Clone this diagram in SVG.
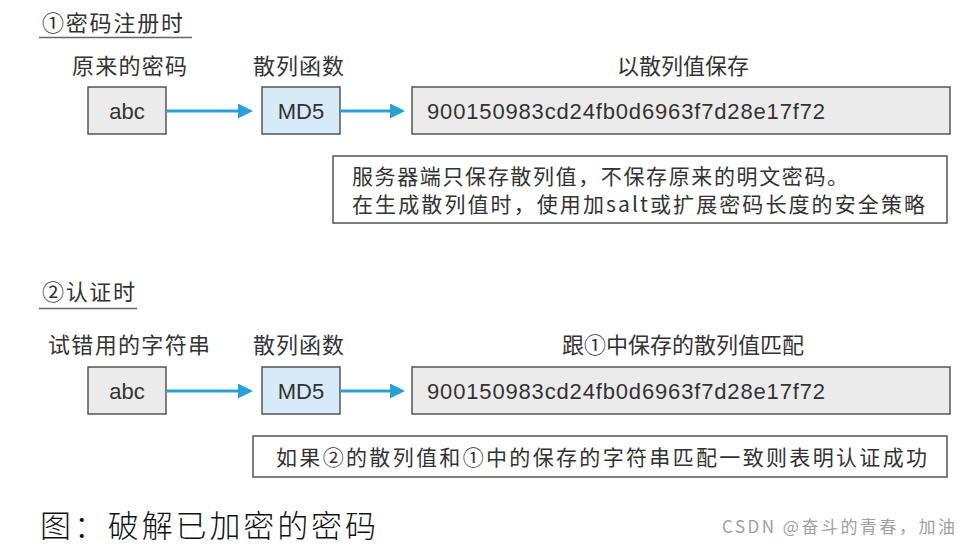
<svg xmlns="http://www.w3.org/2000/svg" width="968" height="546" viewBox="0 0 968 546">
<defs>
<style>
.cjk{font-family:"Noto Sans CJK SC","Noto Sans",sans-serif;fill:#333;}
.lat{font-family:"Liberation Sans","Noto Sans",sans-serif;fill:#333;}
.box{fill:#ebebeb;stroke:#555;stroke-width:1.5;}
.md5{fill:#d6eaf8;stroke:#555;stroke-width:1.5;}
.note{fill:#fff;stroke:#555;stroke-width:1.5;}
.rule{stroke:#666;stroke-width:1.5;}
.arr{stroke:#2a9fd8;stroke-width:3;fill:none;marker-end:url(#ah);}
</style>
<marker id="ah" markerWidth="5" markerHeight="5" refX="4" refY="2.5" orient="auto" markerUnits="strokeWidth">
<path d="M0,0 L5,2.5 L0,5 Z" fill="#2a9fd8"/>
</marker>
</defs>
<rect width="968" height="546" fill="#fff"/>

<g id="section1-title">
<text class="cjk" x="42" y="31" font-size="22" textLength="141">①密码注册时</text>
<line class="rule" x1="39" y1="37.5" x2="192" y2="37.5"/>
</g>
<g id="label-orig"><text class="cjk" x="72" y="74" font-size="22" textLength="115">原来的密码</text></g>
<g id="label-hash1"><text class="cjk" x="253" y="74" font-size="22" textLength="91">散列函数</text></g>
<g id="label-save"><text class="cjk" x="683" y="74" font-size="22" text-anchor="middle">以散列值保存</text></g>

<g id="abc1"><rect class="box" x="88" y="87" width="78" height="47"/><text class="lat" x="127" y="119" font-size="22" text-anchor="middle">abc</text></g>
<g id="md51"><rect class="md5" x="262" y="87" width="78" height="47"/><text class="lat" x="301" y="119" font-size="22" text-anchor="middle">MD5</text></g>
<g id="hash1"><rect class="box" x="412" y="87" width="538" height="47"/><text class="lat" x="427" y="119" font-size="22" textLength="398">900150983cd24fb0d6963f7d28e17f72</text></g>
<g id="note1"><rect class="note" x="333" y="156" width="614" height="67"/>
<text class="cjk" x="352" y="184" font-size="21" textLength="496">服务器端只保存散列值，不保存原来的明文密码。</text>
<text class="cjk" x="352" y="212" font-size="21" textLength="573">在生成散列值时，使用加salt或扩展密码长度的安全策略</text></g>

<g id="section2-title">
<text class="cjk" x="42" y="300" font-size="22" textLength="93">②认证时</text>
<line class="rule" x1="39" y1="308.5" x2="137" y2="308.5"/>
</g>
<g id="label-try"><text class="cjk" x="48" y="353" font-size="22" textLength="162">试错用的字符串</text></g>
<g id="label-hash2"><text class="cjk" x="253" y="353" font-size="22" textLength="91">散列函数</text></g>
<g id="label-match"><text class="cjk" x="683" y="353" font-size="22" text-anchor="middle">跟①中保存的散列值匹配</text></g>

<g id="abc2"><rect class="box" x="88" y="367" width="78" height="47"/><text class="lat" x="127" y="399" font-size="22" text-anchor="middle">abc</text></g>
<g id="md52"><rect class="md5" x="262" y="367" width="78" height="47"/><text class="lat" x="301" y="399" font-size="22" text-anchor="middle">MD5</text></g>
<g id="hash2"><rect class="box" x="412" y="367" width="538" height="47"/><text class="lat" x="427" y="399" font-size="22" textLength="398">900150983cd24fb0d6963f7d28e17f72</text></g>
<g id="note2"><rect class="note" x="253" y="436" width="694" height="41"/>
<text class="cjk" x="276" y="465" font-size="21" textLength="651">如果②的散列值和①中的保存的字符串匹配一致则表明认证成功</text></g>

<g id="connectors">
<line class="arr" x1="166" y1="111" x2="250" y2="111"/>
<line class="arr" x1="340" y1="111" x2="402" y2="111"/>
<line class="arr" x1="166" y1="391" x2="250" y2="391"/>
<line class="arr" x1="340" y1="391" x2="402" y2="391"/>
</g>

<g id="caption">
<text x="40" y="537" font-size="31" textLength="336" font-family="'Noto Sans CJK SC',sans-serif" font-weight="300" fill="#111">图：破解已加密的密码</text>
</g>
<g id="watermark">
<text x="722" y="533" font-size="17" textLength="233" font-family="'Noto Sans CJK SC',sans-serif" fill="#a0a0a0">CSDN @奋斗的青春，加油</text>
</g>
</svg>
